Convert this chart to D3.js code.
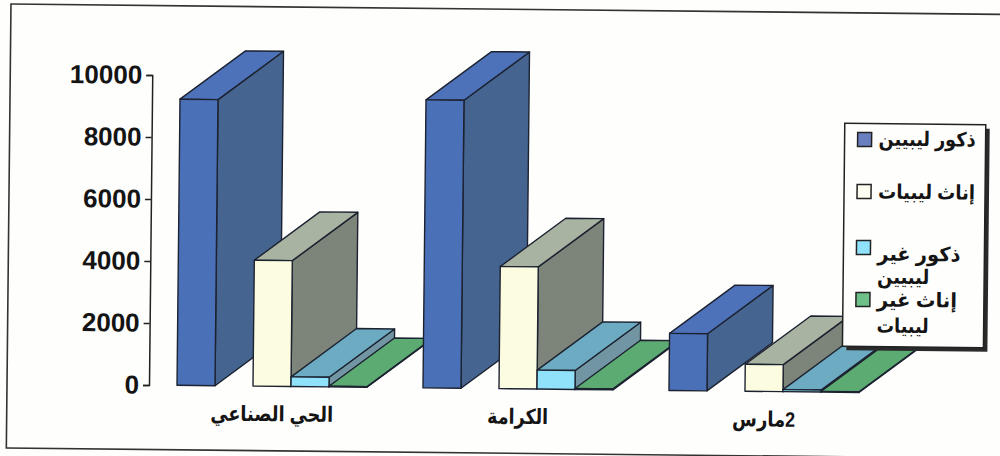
<!DOCTYPE html>
<html><head><meta charset="utf-8">
<script src="https://cdn.jsdelivr.net/npm/d3@7"></script>
<style>html,body{margin:0;padding:0;background:#fefefd;overflow:hidden}svg{display:block}</style>
</head><body><svg id="c" width="1000" height="456"></svg>
<script>
const categories = ["الحي الصناعي", "الكرامة", "2مارس"];
const maleLibyan = [9230, 9290, 1840];
const femaleLibyan = [4060, 3940, 870];
const maleForeign = [310, 610, 65];
const femaleForeign = [20, 30, 20];
const tickValues = [0, 2000, 4000, 6000, 8000, 10000];
const legendLabels = [["ذكور ليبيين"], ["إناث ليبيات"], ["ذكور غير", "ليبيين"], ["إناث غير", "ليبيات"]];
const seriesKeys = ["m", "f", "mf", "ff"];
const seriesValues = [maleLibyan, femaleLibyan, maleForeign, femaleForeign];
const slots = ["m", "gap", "f", "mf", "ff"];
const palette = {
  m:  {front:"#4a70b8", top:"#4d72ba", side:"#456590"},
  f:  {front:"#fcfce0", top:"#a9b3a2", side:"#7d8479"},
  mf: {front:"#90e2fb", top:"#6cabc2", side:"#7195a2"},
  ff: {front:"#5bab72", top:"#5bab72", side:"#4a8f60"}
};
const legendSwatch = ["#6a7fc0", "#fdfdf2", "#90e2fb", "#6cc088"];

const font = "'Liberation Sans', Arial, sans-serif";
const arFont = "'Liberation Sans', 'DejaVu Sans', sans-serif";
const ink = "#1c2230";
const depth = {x:65, y:-49};

const svg = d3.select("#c");
const root = svg.append("g").attr("transform", "rotate(0.6 149 385)");

root.append("rect").attr("x",7).attr("y",5.5).attr("width",1100).attr("height",444)
  .attr("fill","none").attr("stroke","#333").attr("stroke-width",1.6);

const y = d3.scaleLinear().domain([0,10000]).range([385,75]);
const x0 = d3.scaleBand().domain(categories).range([177,915]);
const x1 = d3.scaleBand().domain(slots).range([0,190]);

const axis = d3.axisLeft(y).tickValues(tickValues).tickSize(6).tickPadding(4).tickFormat(d3.format("d"));
const ax = root.append("g").attr("transform","translate(149,0)").call(axis);
ax.selectAll("path,line").attr("stroke","#222").attr("stroke-width",1.5);
ax.selectAll("text").attr("font-family",font).attr("font-weight","bold").attr("font-size",26).attr("fill","#141414");

const bw = x1.bandwidth();
const labelWidths = [123, 61, 63];
categories.forEach((c,i)=>{
  seriesKeys.forEach((k,s)=>{
    const v = seriesValues[s][i];
    const X = x0(c)+x1(k), Y = y(v), B = y(0), p = palette[k];
    const g = root.append("g").attr("stroke",ink).attr("stroke-width",1.4).attr("stroke-linejoin","round");
    const poly = pts => pts.map(q=>q.join(",")).join(" ");
    g.append("polygon").attr("fill",p.side).attr("points",poly([[X+bw,Y],[X+bw+depth.x,Y+depth.y],[X+bw+depth.x,B+depth.y],[X+bw,B]]));
    g.append("polygon").attr("fill",p.top).attr("points",poly([[X,Y],[X+depth.x,Y+depth.y],[X+bw+depth.x,Y+depth.y],[X+bw,Y]]));
    g.append("rect").attr("x",X).attr("y",Y).attr("width",bw).attr("height",B-Y).attr("fill",p.front);
  });
  root.append("text").attr("x",x0(c)+95).attr("y",420).attr("text-anchor","middle").attr("direction","rtl")
    .attr("textLength",labelWidths[i]).attr("lengthAdjust","spacingAndGlyphs")
    .attr("font-family",arFont).attr("font-weight","bold").attr("font-size",21).attr("fill","#141414").text(c);
});

// legend
const lg = root.append("g");
lg.append("rect").attr("x",846).attr("y",120).attr("width",141).attr("height",223).attr("fill","#2a2a2a");
lg.append("rect").attr("x",842).attr("y",116).attr("width",141).attr("height",223).attr("fill","#fefefd").attr("stroke","#222").attr("stroke-width",1.5);
const rowY = [131, 183, 239, 291];
const lineY = [[138],[191],[253,276],[299,325]];
const lineW = [[97],[97],[83],[80]];
legendLabels.forEach((lines,i)=>{
  lg.append("rect").attr("x",855).attr("y",rowY[i]-6).attr("width",14).attr("height",14)
    .attr("fill",legendSwatch[i]).attr("stroke","#222").attr("stroke-width",1.5);
  lines.forEach((t,j)=>{
    const el = lg.append("text").attr("x",876).attr("y",lineY[i][j]).attr("font-family",arFont).attr("font-weight","bold").attr("font-size",20).attr("fill","#141414").text(t);
    const w = j===0 ? lineW[i][0] : 52;
    el.attr("textLength",w).attr("lengthAdjust","spacingAndGlyphs");
  });
});
</script></body></html>
